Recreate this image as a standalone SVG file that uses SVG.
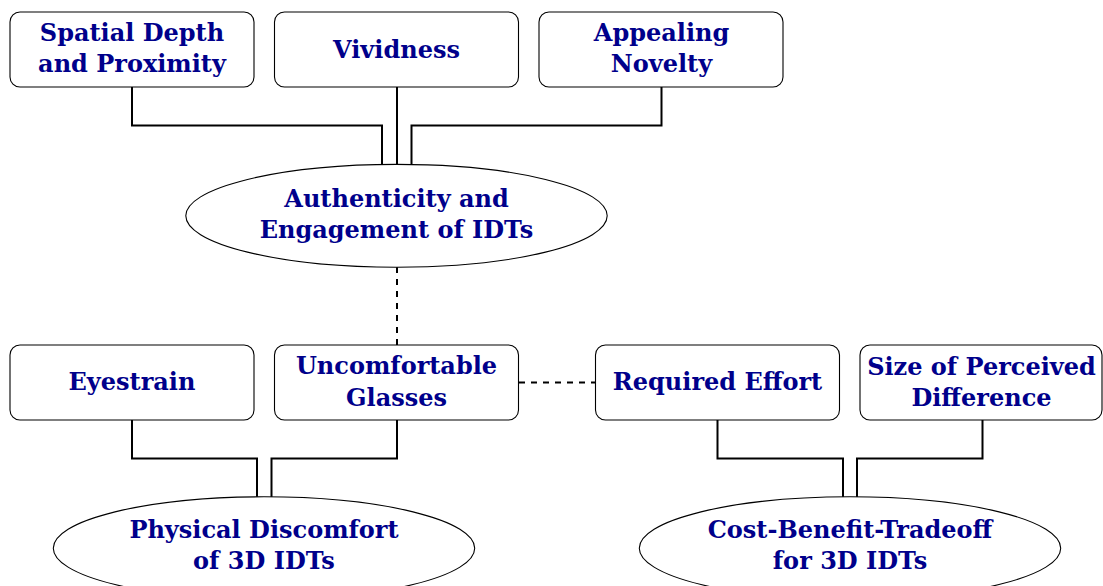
<svg xmlns="http://www.w3.org/2000/svg" width="1103" height="586" viewBox="0 0 1103 586">
  <style>
    .box { fill: #ffffff; stroke: #000000; stroke-width: 1.1; }
    .oval { fill: #ffffff; stroke: #000000; stroke-width: 1.1; }
    .label { font-family: "DejaVu Serif", "Liberation Serif", serif; font-weight: bold; font-size: 24px; fill: #00008b; text-anchor: middle; }
    .link { fill: none; stroke: #000000; stroke-width: 2; }
    .dash { fill: none; stroke: #000000; stroke-width: 2; stroke-dasharray: 6 6; }
  </style>
  <rect width="1103" height="586" fill="#ffffff"/>

  <!-- connectors -->
  <g id="connectors">
    <polyline class="link" points="132,87 132,125.5 382,125.5 382,165"/>
    <line class="link" x1="397" y1="87" x2="397" y2="165"/>
    <polyline class="link" points="661.5,87 661.5,125.5 411.5,125.5 411.5,165"/>
    <line class="dash" x1="397" y1="267" x2="397" y2="345"/>
    <line class="dash" x1="519" y1="382.5" x2="595" y2="382.5"/>
    <polyline class="link" points="132,420 132,458.5 257,458.5 257,497"/>
    <polyline class="link" points="397,420 397,458.5 271.5,458.5 271.5,497"/>
    <polyline class="link" points="717.5,420 717.5,458.5 843,458.5 843,497"/>
    <polyline class="link" points="982.5,420 982.5,458.5 857,458.5 857,497"/>
  </g>

  <g id="spatial-depth">
    <rect class="box" x="10" y="12" width="244" height="75" rx="10"/>
    <text class="label" x="132" y="40.5">Spatial Depth</text>
    <text class="label" x="132" y="72">and Proximity</text>
  </g>
  <g id="vividness">
    <rect class="box" x="274.5" y="12" width="244" height="75" rx="10"/>
    <text class="label" x="396.5" y="57.5">Vividness</text>
  </g>
  <g id="appealing-novelty">
    <rect class="box" x="539" y="12" width="244" height="75" rx="10"/>
    <text class="label" x="661.5" y="40.5">Appealing</text>
    <text class="label" x="661.5" y="72">Novelty</text>
  </g>

  <g id="authenticity">
    <ellipse class="oval" cx="396.5" cy="215.8" rx="210.7" ry="51.4"/>
    <text class="label" x="396.5" y="206.5">Authenticity and</text>
    <text class="label" x="396.5" y="238">Engagement of IDTs</text>
  </g>

  <g id="eyestrain">
    <rect class="box" x="10" y="345" width="244" height="75" rx="10"/>
    <text class="label" x="132" y="390">Eyestrain</text>
  </g>
  <g id="uncomfortable-glasses">
    <rect class="box" x="274.5" y="345" width="244" height="75" rx="10"/>
    <text class="label" x="396.5" y="374">Uncomfortable</text>
    <text class="label" x="396.5" y="405.5">Glasses</text>
  </g>
  <g id="required-effort">
    <rect class="box" x="595.5" y="345" width="244" height="75" rx="10"/>
    <text class="label" x="717.5" y="390">Required Effort</text>
  </g>
  <g id="perceived-difference">
    <rect class="box" x="860" y="345" width="242" height="75" rx="10"/>
    <text class="label" x="981.5" y="374.5">Size of Perceived</text>
    <text class="label" x="981.5" y="406">Difference</text>
  </g>

  <g id="physical-discomfort">
    <ellipse class="oval" cx="264" cy="548.2" rx="210.7" ry="51.4"/>
    <text class="label" x="264" y="538">Physical Discomfort</text>
    <text class="label" x="264" y="568.5">of 3D IDTs</text>
  </g>
  <g id="cost-benefit">
    <ellipse class="oval" cx="850" cy="548.2" rx="210.7" ry="51.4"/>
    <text class="label" x="850" y="538">Cost-Benefit-Tradeoff</text>
    <text class="label" x="850" y="568.5">for 3D IDTs</text>
  </g>
</svg>
